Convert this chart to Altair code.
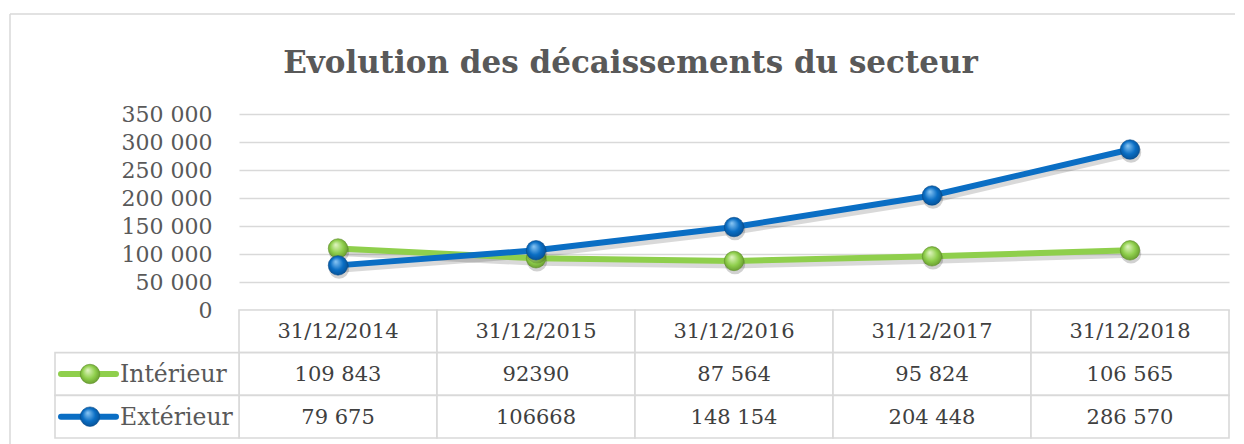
import altair as alt
import pandas as pd

# ---- data ----
dates = ["31/12/2014", "31/12/2015", "31/12/2016", "31/12/2017", "31/12/2018"]
series_names = ["Intérieur", "Extérieur"]
interieur = [109843, 92390, 87564, 95824, 106565]
exterieur = [79675, 106668, 148154, 204448, 286570]
interieur_labels = ["109 843", "92390", "87 564", "95 824", "106 565"]
exterieur_labels = ["79 675", "106668", "148 154", "204 448", "286 570"]
y_ticks = [0, 50000, 100000, 150000, 200000, 250000, 300000, 350000]

colors = {"Intérieur": "#8FCF4C", "Extérieur": "#0A6EC4"}
light = {"Intérieur": "#E2F5C4", "Extérieur": "#8CC8F5"}
dark = {"Intérieur": "#5E8F28", "Extérieur": "#064A8A"}
values = {"Intérieur": interieur, "Extérieur": exterieur}
labels = {"Intérieur": interieur_labels, "Extérieur": exterieur_labels}

FONT = "DejaVu Serif"
GRAY = "#D9D9D9"
TXT = "#595959"


def ball(name):
    return alt.RadialGradient(
        gradient="radial",
        x1=0.38, y1=0.3, r1=0.0,
        x2=0.5, y2=0.5, r2=0.6,
        stops=[
            alt.GradientStop(offset=0.0, color=light[name]),
            alt.GradientStop(offset=0.55, color=colors[name]),
            alt.GradientStop(offset=1.0, color=dark[name]),
        ],
    )


# ---- top plot ----
line_df = pd.DataFrame(
    [{"date": d, "serie": s, "value": v}
     for s in series_names for d, v in zip(dates, values[s])]
)

xenc = alt.X("date:N", sort=dates, scale=alt.Scale(type="point", padding=0.5), axis=None)
yenc = alt.Y(
    "value:Q",
    scale=alt.Scale(domain=[0, 350000], nice=False, zero=True),
    axis=alt.Axis(
        values=y_ticks,
        labelExpr="replace(format(datum.value, ','), regexp(',', 'g'), ' ')",
        domain=False, ticks=False, grid=True,
        gridColor=GRAY, gridWidth=1.6,
        labelFont=FONT, labelFontSize=22, labelColor=TXT, labelPadding=27,
        title=None,
    ),
)

# chart-area frame (decorative border of the whole chart: left and top edges)
fdf = pd.DataFrame({"f": [0]})
frame_left = alt.Chart(fdf).mark_rule(color=GRAY, strokeWidth=1.5).encode(
    x=alt.value(-229), y=alt.value(-100), y2=alt.value(345))
frame_top = alt.Chart(fdf).mark_rule(color=GRAY, strokeWidth=1.5).encode(
    y=alt.value(-100), x=alt.value(-229), x2=alt.value(996))

layers = [frame_left, frame_top]
for s in series_names:
    d = line_df[line_df.serie == s]
    base = alt.Chart(d).encode(x=xenc, y=yenc)
    layers.append(base.mark_line(color="#000000", opacity=0.15, strokeWidth=7, xOffset=1, yOffset=4))
for s in series_names:
    d = line_df[line_df.serie == s]
    base = alt.Chart(d).encode(x=xenc, y=yenc)
    layers.append(base.mark_line(color=colors[s], strokeWidth=6))
for s in series_names:
    d = line_df[line_df.serie == s]
    base = alt.Chart(d).encode(x=xenc, y=yenc)
    layers.append(base.mark_point(shape="circle", filled=True, size=420, color="#000000",
                                  opacity=0.18, xOffset=1, yOffset=3))
    layers.append(base.mark_point(shape="circle", filled=True, size=380, fill=ball(s),
                                  opacity=1, stroke=dark[s], strokeWidth=0.6))

top = alt.layer(*layers).properties(width=990, height=196)

# ---- data table ----
rows = ["header"] + series_names
table_df = pd.DataFrame(
    [{"row": "header", "date": d, "label": d} for d in dates]
    + [{"row": s, "date": d, "label": lab} for s in series_names for d, lab in zip(dates, labels[s])]
)

tx = alt.X("date:N", sort=dates, scale=alt.Scale(paddingInner=0, paddingOuter=0), axis=None)
ty = alt.Y("row:N", sort=rows, scale=alt.Scale(domain=rows, paddingInner=0, paddingOuter=0), axis=None)

tbase = alt.Chart(table_df).encode(x=tx, y=ty)
cells = tbase.mark_rect(fill="white", stroke=GRAY, strokeWidth=1.6)
cell_text = tbase.mark_text(font=FONT, fontSize=21, color="#404040", dy=1).encode(text="label:N")

leg_df = pd.DataFrame({"row": series_names, "label": series_names})
tlayers = [cells, cell_text]
leg_box = alt.Chart(leg_df).mark_rect(fill="white", stroke=GRAY, strokeWidth=1.6).encode(
    y=ty, x=alt.value(-184), x2=alt.value(0))
tlayers.append(leg_box)
for s in series_names:
    d = leg_df[leg_df.row == s]
    yb = alt.Y("row:N", sort=rows, scale=alt.Scale(domain=rows, paddingInner=0, paddingOuter=0),
               axis=None, bandPosition=0.5)
    b = alt.Chart(d)
    tlayers.append(b.mark_rule(color=colors[s], strokeWidth=6, strokeCap="round").encode(
        y=yb, x=alt.value(-178), x2=alt.value(-123)))
    tlayers.append(b.mark_point(shape="circle", filled=True, size=380, fill=ball(s), opacity=1,
                                stroke=dark[s], strokeWidth=0.6).encode(y=yb, x=alt.value(-149)))
    tlayers.append(b.mark_text(align="left", font=FONT, fontSize=23.5, color=TXT, dy=1).encode(
        y=yb, x=alt.value(-119), text="label:N"))

table = alt.layer(*tlayers).properties(width=990, height=128)

chart = (
    alt.vconcat(top, table, spacing=0, bounds="flush")
    .properties(
        title=alt.TitleParams(
            "Evolution des décaissements du secteur",
            font=FONT, fontSize=31, fontWeight="bold", color=TXT,
            anchor="middle", offset=-67, dx=8,
        ),
        padding={"left": 1, "top": 5, "right": 0, "bottom": 0},
    )
    .configure_view(strokeWidth=0)
)

chart.save("out.html", embed_options={"renderer": "svg", "actions": False})
